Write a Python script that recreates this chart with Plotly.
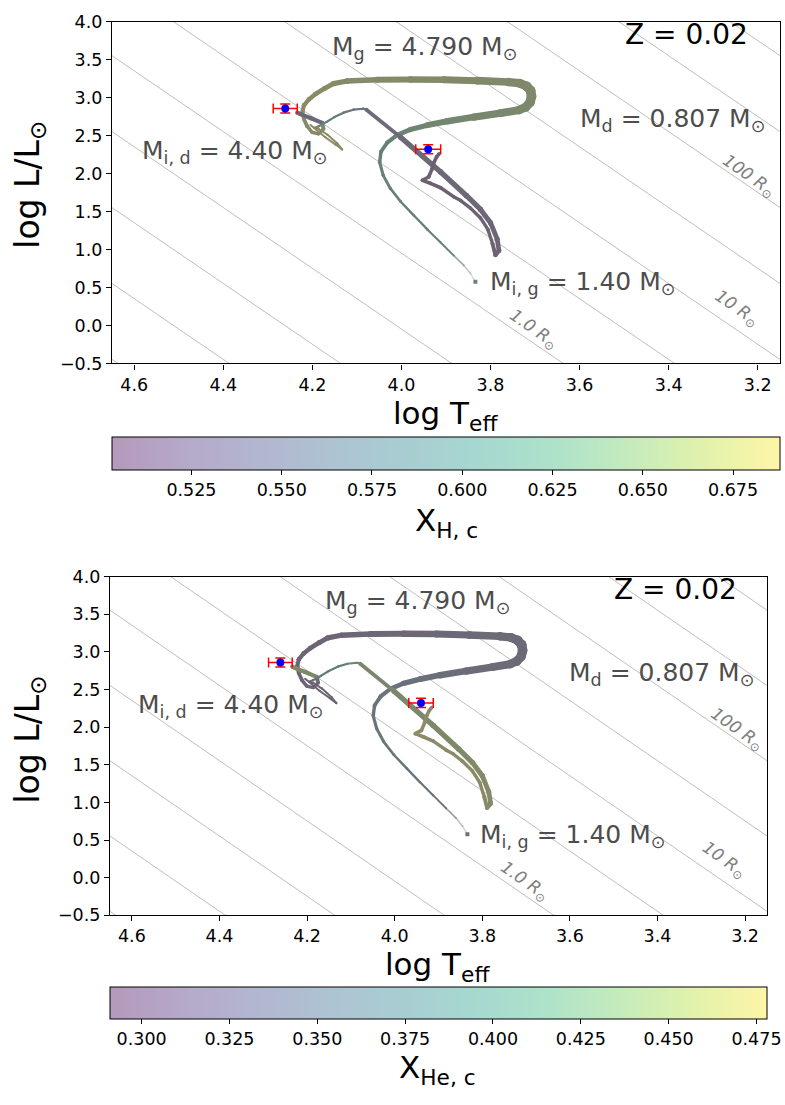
import plotly.graph_objects as go
from plotly.colors import sample_colorscale

# ---------------- data ----------------
LOG_TEFF_SUN = 3.7617
METALLICITY = "0.02"

# donor track (initial 4.40 Msun)
D_LOGT = [4.2045, 4.171, 4.148, 4.133, 4.144, 4.166, 4.1865, 4.1955,
          4.1865, 4.1685, 4.1506, 4.130, 4.108, 4.0854, 4.0787,
          4.002, 3.912, 3.854, 3.8225, 3.800, 3.785, 3.781, 3.789,
          3.7955, 3.806, 3.8225, 3.845, 3.867, 3.883,
          3.912, 3.935, 3.953, 3.939, 3.9315, 3.927, 3.921, 3.9157]
D_LOGL = [2.642, 2.480, 2.383, 2.318, 2.396, 2.512, 2.590, 2.603,
          2.622, 2.680, 2.745, 2.803, 2.842, 2.855, 2.842,
          2.480, 2.021, 1.710, 1.529, 1.354, 1.137, 0.986, 0.930,
          1.076, 1.266, 1.417, 1.546, 1.646, 1.697,
          1.814, 1.872, 1.913, 1.956, 2.060, 2.150, 2.221, 2.260]
D_XH = [0.686, 0.684, 0.682, 0.680, 0.678, 0.676, 0.673, 0.670,
        0.630, 0.612, 0.595, 0.578, 0.562, 0.548, 0.538,
        0.532, 0.528, 0.525, 0.522, 0.520, 0.518, 0.516, 0.514,
        0.512, 0.511, 0.510, 0.509, 0.508, 0.507,
        0.506, 0.505, 0.505, 0.504, 0.504, 0.503, 0.503, 0.503]
D_XHE = [0.294, 0.296, 0.298, 0.300, 0.302, 0.304, 0.307, 0.310,
         0.350, 0.368, 0.385, 0.402, 0.418, 0.432, 0.442,
         0.448, 0.452, 0.455, 0.458, 0.460, 0.462, 0.464, 0.466,
         0.468, 0.469, 0.470, 0.471, 0.472, 0.473,
         0.474, 0.475, 0.475, 0.476, 0.476, 0.477, 0.477, 0.477]

# gainer track (initial 1.40 Msun)
G_LOGT = [3.834, 3.845, 3.860, 3.8825, 3.912, 3.942, 3.972, 4.002, 4.025, 4.041,
          4.049, 4.046, 4.032, 4.010, 3.980, 3.942, 3.897, 3.8375, 3.7775,
          3.737, 3.7213, 3.7112, 3.7079, 3.710, 3.719, 3.735, 3.760,
          3.830, 3.905, 3.980, 4.055, 4.122,
          4.153, 4.173, 4.193, 4.208, 4.219, 4.2225, 4.219, 4.212, 4.2007,
          4.186, 4.175, 4.178, 4.2045, 4.227, 4.234]
G_LOGL = [0.576, 0.684, 0.792, 0.921, 1.093, 1.266, 1.448, 1.633, 1.805, 1.978,
          2.150, 2.288, 2.409, 2.508, 2.581, 2.638, 2.690, 2.745, 2.797,
          2.836, 2.875, 2.939, 3.017, 3.094, 3.153, 3.191, 3.207,
          3.224, 3.237, 3.241, 3.237, 3.220,
          3.185, 3.120, 3.049, 2.978, 2.900, 2.810, 2.719, 2.625, 2.545,
          2.525, 2.590, 2.668, 2.732, 2.784, 2.803]
G_XH = [0.630, 0.628, 0.626, 0.624, 0.622, 0.620, 0.618, 0.617, 0.616, 0.616,
        0.617, 0.619, 0.624, 0.630, 0.637, 0.643, 0.648, 0.652, 0.655,
        0.657, 0.658, 0.659, 0.660, 0.661, 0.662, 0.663, 0.664,
        0.666, 0.668, 0.670, 0.672, 0.674,
        0.676, 0.678, 0.680, 0.681, 0.681, 0.680, 0.678, 0.675, 0.672,
        0.668, 0.660, 0.530, 0.525, 0.522, 0.520]
G_XHE = [0.350, 0.352, 0.354, 0.356, 0.358, 0.360, 0.362, 0.363, 0.364, 0.364,
         0.363, 0.361, 0.356, 0.350, 0.343, 0.337, 0.332, 0.328, 0.325,
         0.323, 0.322, 0.321, 0.320, 0.319, 0.318, 0.317, 0.316,
         0.314, 0.312, 0.310, 0.308, 0.306,
         0.304, 0.302, 0.300, 0.299, 0.299, 0.300, 0.302, 0.305, 0.308,
         0.312, 0.320, 0.450, 0.455, 0.458, 0.460]

# observed components
OBS_LOGT = [4.261, 3.940]
OBS_LOGL = [2.858, 2.322]
OBS_ERR_LOGT = [0.027, 0.028]
OBS_ERR_LOGL = [0.06, 0.06]

# colour-bar ranges and ticks
XH_RANGE = [0.503, 0.688]
XHE_RANGE = [0.291, 0.478]
XH_TICKS = [0.525, 0.550, 0.575, 0.600, 0.625, 0.650, 0.675]
XHE_TICKS = [0.300, 0.325, 0.350, 0.375, 0.400, 0.425, 0.450, 0.475]

# axes
X_TICKS = [4.6, 4.4, 4.2, 4.0, 3.8, 3.6, 3.4, 3.2]
Y_TICKS = [-0.5, 0.0, 0.5, 1.0, 1.5, 2.0, 2.5, 3.0, 3.5, 4.0]
X_RANGE = [4.65, 3.15]
Y_RANGE = [-0.5, 4.0]

# iso-radius lines (log R / Rsun)
LOG_R = [-2.0, -1.5, -1.0, -0.5, 0.0, 0.5, 1.0, 1.5, 2.0, 2.5, 3.0, 3.5]
R_LABEL_TEXT = ["1.0", "10", "100"]

# text labels
MASS_TEXT = ["M<sub>g</sub> = 4.790 M<sub>⊙</sub>",
             "M<sub>d</sub> = 0.807 M<sub>⊙</sub>",
             "M<sub>i, d</sub> = 4.40 M<sub>⊙</sub>",
             "M<sub>i, g</sub> = 1.40 M<sub>⊙</sub>"]

# ---------------- positions / styles ----------------
MASS_POS = [(3.948, 3.66), (3.391, 2.71), (4.374, 2.285), (3.594, 0.557)]
Z_POS = (3.360, 3.83)
R_LABEL_POS = [(3.7045, -0.056), (3.2483, 0.222), (3.2196, 1.969)]

D_LW = [2.0] * 8 + [2.2] * 7 + [5.4, 5.4, 5.4, 5.2, 5.0, 4.8, 4.6, 4.4] + [3.4] * 6 + [3.6] * 8
G_LW = [1.2, 1.4, 1.6, 1.8, 2.0, 2.2, 2.4, 2.6, 2.8, 3.0, 3.3, 3.6,
        4.0, 4.4, 5.0, 5.6, 6.2, 7.0, 7.6,
        8.2, 8.8, 9.2, 9.6, 9.6, 9.2, 8.6, 8.0,
        7.4, 6.8, 6.2, 5.8, 5.4,
        5.0, 4.8, 4.6, 4.4, 4.2, 4.0, 3.8, 3.6, 3.4,
        3.4, 3.4, 4.2, 4.2, 4.2, 4.2]
G_FADE = [0.3, 0.45, 0.65]

W, H = 785, 1105
FONT = "DejaVu Sans"
PANELS = [
    dict(xa="x", ya="y", x0=112, x1=780, y0=12, y1=360, cb_top=435, cb_h=33,
         key="H", xl=(445, 413), yl=(30, 178), cbl=(446, 522)),
    dict(xa="x2", ya="y2", x0=110, x1=767, y0=577, y1=922, cb_top=995, cb_h=32,
         key="He", xl=(437, 974), yl=(30, 743), cbl=(437, 1079)),
]


def _rgb(s):
    s = s[s.index("(") + 1:s.index(")")]
    return [float(v) for v in s.split(",")[:3]]


def track_color(v, vr, alpha=0.19, base=118):
    t = min(max((v - vr[0]) / (vr[1] - vr[0]), 0.0), 1.0)
    r, g, b = _rgb(sample_colorscale("Viridis", [t])[0])
    return "rgb(%d,%d,%d)" % tuple(round(alpha * c + (1 - alpha) * base) for c in (r, g, b))


def bar_scale(alpha=0.4):
    out = []
    n = 24
    for i in range(n + 1):
        t = i / n
        r, g, b = _rgb(sample_colorscale("Viridis", [t])[0])
        out.append([t, "rgb(%d,%d,%d)" % tuple(round(alpha * c + (1 - alpha) * 255) for c in (r, g, b))])
    return out


fig = go.Figure()


def add_track(T, L, V, LW, vr, xa, ya, fade=None):
    for i in range(len(T) - 1):
        c = track_color(V[i], vr)
        w = 0.5 * (LW[i] + LW[i + 1])
        op = fade[i] if (fade and i < len(fade)) else 1.0
        fig.add_trace(go.Scatter(
            x=[T[i], T[i + 1]], y=[L[i], L[i + 1]], mode="lines+markers",
            line=dict(color=c, width=w), marker=dict(color=c, size=w, line=dict(width=0)),
            opacity=op, xaxis=xa, yaxis=ya, showlegend=False, hoverinfo="skip"))


annotations = []
for k, p in enumerate(PANELS):
    xa, ya = p["xa"], p["ya"]
    for r in LOG_R:
        tt = [4.9, 2.9]
        ll = [2 * r + 4 * (t - LOG_TEFF_SUN) for t in tt]
        fig.add_trace(go.Scatter(x=tt, y=ll, mode="lines", line=dict(color="#b8b8b8", width=0.9),
                                 xaxis=xa, yaxis=ya, showlegend=False, hoverinfo="skip"))
    if p["key"] == "H":
        gv, dv, vr = G_XH, D_XH, XH_RANGE
    else:
        gv, dv, vr = G_XHE, D_XHE, XHE_RANGE
    add_track(G_LOGT, G_LOGL, gv, G_LW, vr, xa, ya, fade=G_FADE)
    add_track(D_LOGT, D_LOGL, dv, D_LW, vr, xa, ya)
    fig.add_trace(go.Scatter(x=[G_LOGT[0]], y=[G_LOGL[0]], mode="markers",
                             marker=dict(symbol="square", size=4, color=track_color(gv[0], vr)),
                             xaxis=xa, yaxis=ya, showlegend=False, hoverinfo="skip"))
    fig.add_trace(go.Scatter(
        x=OBS_LOGT, y=OBS_LOGL, mode="markers",
        marker=dict(color="blue", size=8),
        error_x=dict(type="data", array=OBS_ERR_LOGT, color="red", thickness=1.5, width=5),
        error_y=dict(type="data", array=OBS_ERR_LOGL, color="red", thickness=1.5, width=5),
        xaxis=xa, yaxis=ya, showlegend=False, hoverinfo="skip"))
    ca = "coloraxis" if k == 0 else "coloraxis2"
    fig.add_trace(go.Scatter(x=[4.0], y=[2.0], mode="markers",
                             marker=dict(size=1, opacity=0, color=[sum(vr) / 2], coloraxis=ca),
                             xaxis=xa, yaxis=ya, showlegend=False, hoverinfo="skip"))

    for txt, (tx, ty) in zip(MASS_TEXT, MASS_POS):
        annotations.append(dict(x=tx, y=ty, xref=xa, yref=ya, text=txt, showarrow=False,
                                font=dict(family=FONT, size=25, color="#4d4d4d"),
                                xanchor="center", yanchor="middle"))
    annotations.append(dict(x=Z_POS[0], y=Z_POS[1], xref=xa, yref=ya, text="Z = " + METALLICITY,
                            showarrow=False, font=dict(family=FONT, size=28, color="black"),
                            xanchor="center", yanchor="middle"))
    for txt, (tx, ty) in zip(R_LABEL_TEXT, R_LABEL_POS):
        annotations.append(dict(x=tx, y=ty, xref=xa, yref=ya, text="<i>%s R<sub>⊙</sub></i>" % txt,
                                showarrow=False, textangle=34.8,
                                font=dict(family=FONT, size=17, color="#808080"),
                                xanchor="center", yanchor="middle"))
    annotations.append(dict(x=p["xl"][0] / W, y=1 - p["xl"][1] / H, xref="paper", yref="paper",
                            text="log T<sub>eff</sub>", showarrow=False,
                            font=dict(family=FONT, size=31, color="black"),
                            xanchor="center", yanchor="middle"))
    annotations.append(dict(x=p["yl"][0] / W, y=1 - p["yl"][1] / H, xref="paper", yref="paper",
                            text="log L/L<sub>⊙</sub>", showarrow=False, textangle=-90,
                            font=dict(family=FONT, size=33, color="black"),
                            xanchor="center", yanchor="middle"))
    cbt = "X<sub>H, c</sub>" if p["key"] == "H" else "X<sub>He, c</sub>"
    annotations.append(dict(x=p["cbl"][0] / W, y=1 - p["cbl"][1] / H, xref="paper", yref="paper",
                            text=cbt, showarrow=False,
                            font=dict(family=FONT, size=31, color="black"),
                            xanchor="center", yanchor="middle"))


def axis_common():
    return dict(showline=True, linecolor="black", linewidth=1.2, mirror=True,
                ticks="outside", ticklen=5, tickwidth=1.2, tickcolor="black",
                showgrid=False, zeroline=False,
                tickfont=dict(family=FONT, size=17.5, color="black"))


def fmt_y(v):
    s = "%.1f" % abs(v)
    return ("−" + s) if v < 0 else s


layout = dict(width=W, height=H, margin=dict(l=0, r=0, t=0, b=0),
              paper_bgcolor="white", plot_bgcolor="white", showlegend=False,
              font=dict(family=FONT), annotations=annotations)

for k, p in enumerate(PANELS):
    sfx = "" if k == 0 else "2"
    xax = axis_common()
    xax.update(range=X_RANGE, domain=[p["x0"] / W, p["x1"] / W], anchor="y" + sfx,
               tickvals=X_TICKS, ticktext=["%.1f" % v for v in X_TICKS])
    yax = axis_common()
    yax.update(range=Y_RANGE, domain=[1 - p["y1"] / H, 1 - p["y0"] / H], anchor="x" + sfx,
               tickvals=Y_TICKS, ticktext=[fmt_y(v) for v in Y_TICKS])
    layout["xaxis" + sfx] = xax
    layout["yaxis" + sfx] = yax
    vr = XH_RANGE if k == 0 else XHE_RANGE
    ticks = XH_TICKS if k == 0 else XHE_TICKS
    layout["coloraxis" + sfx] = dict(
        colorscale=bar_scale(), cmin=vr[0], cmax=vr[1], showscale=True,
        colorbar=dict(orientation="h", x=(p["x0"] + p["x1"]) / 2 / W, xanchor="center",
                      y=1 - p["cb_top"] / H, yanchor="top",
                      len=p["x1"] - p["x0"], lenmode="pixels",
                      thickness=p["cb_h"], thicknessmode="pixels",
                      outlinewidth=1, outlinecolor="black", xpad=0, ypad=0,
                      tickvals=ticks, ticktext=["%.3f" % v for v in ticks],
                      ticks="outside", ticklen=5, tickwidth=1, tickcolor="black",
                      tickfont=dict(family=FONT, size=17.5, color="black")))

fig.update_layout(**layout)
fig.write_html("out.html")
